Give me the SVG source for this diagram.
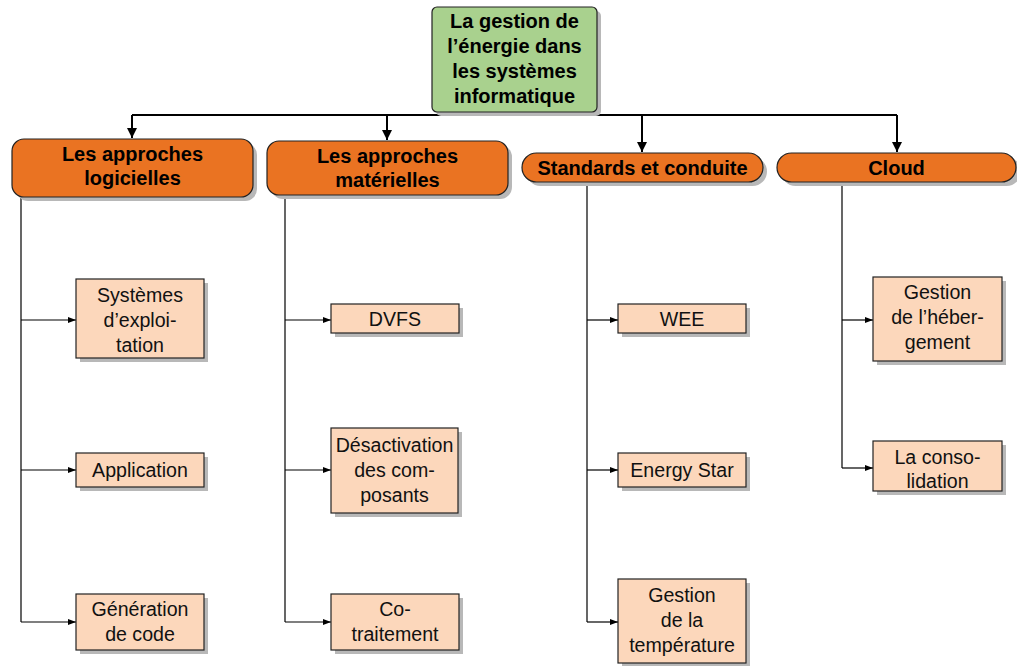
<svg xmlns="http://www.w3.org/2000/svg" width="1017" height="666" viewBox="0 0 1017 666">
<defs>
<style>
.sh{fill:#b8b8b8}
.root{fill:#a9d18e;stroke:#222;stroke-width:1.2}
.cat{fill:#ea7322;stroke:#222;stroke-width:1.2}
.leaf{fill:#fcd7bb;stroke:#222;stroke-width:1.2}
.tb{font-family:"Liberation Sans",Arial,sans-serif;font-weight:bold;font-size:20px;text-anchor:middle;fill:#000}
.t{font-family:"Liberation Sans",Arial,sans-serif;font-size:19.6px;text-anchor:middle;fill:#111}
.c1{fill:none;stroke:#000;stroke-width:2}
.c2{fill:none;stroke:#000;stroke-width:1.2}
</style>
<marker id="ab" viewBox="0 0 10 10" refX="10" refY="5" markerWidth="10" markerHeight="10" markerUnits="userSpaceOnUse" orient="auto"><path d="M0,0L10,5L0,10z" fill="#000"/></marker>
<marker id="as" viewBox="0 0 10 10" refX="10" refY="5" markerWidth="8" markerHeight="6" markerUnits="userSpaceOnUse" orient="auto" preserveAspectRatio="none"><path d="M0,0L10,5L0,10z" fill="#000"/></marker>
</defs>
<rect width="1017" height="666" fill="#fff"/>

<g id="connectors">
<path class="c1" d="M132,115H897"/>
<path class="c1" d="M132,115V138" marker-end="url(#ab)"/>
<path class="c1" d="M387,115V140" marker-end="url(#ab)"/>
<path class="c1" d="M642,115V152" marker-end="url(#ab)"/>
<path class="c1" d="M897,115V152" marker-end="url(#ab)"/>
<path class="c2" d="M21,197V622"/>
<path class="c2" d="M21,320H76" marker-end="url(#as)"/>
<path class="c2" d="M21,470H76" marker-end="url(#as)"/>
<path class="c2" d="M21,622H76" marker-end="url(#as)"/>
<path class="c2" d="M285,195V622"/>
<path class="c2" d="M285,320H331" marker-end="url(#as)"/>
<path class="c2" d="M285,470H331" marker-end="url(#as)"/>
<path class="c2" d="M285,622H331" marker-end="url(#as)"/>
<path class="c2" d="M587,182V622"/>
<path class="c2" d="M587,320H618" marker-end="url(#as)"/>
<path class="c2" d="M587,470H618" marker-end="url(#as)"/>
<path class="c2" d="M587,622H618" marker-end="url(#as)"/>
<path class="c2" d="M842,182V468"/>
<path class="c2" d="M842,320H873" marker-end="url(#as)"/>
<path class="c2" d="M842,468H873" marker-end="url(#as)"/>
</g>

<g id="root">
<rect class="sh" x="436" y="11" width="165" height="105" rx="5"/>
<rect class="root" x="432" y="7" width="165" height="105" rx="5"/>
<text class="tb" x="514.5" y="28">La gestion de</text>
<text class="tb" x="514.5" y="53">l’énergie dans</text>
<text class="tb" x="514.5" y="78">les systèmes</text>
<text class="tb" x="514.5" y="103">informatique</text>
</g>

<g id="cat1">
<rect class="sh" x="16" y="143" width="241" height="58" rx="12"/>
<rect class="cat" x="12" y="139" width="241" height="58" rx="12"/>
<text class="tb" x="132.5" y="161">Les approches</text>
<text class="tb" x="132.5" y="185">logicielles</text>
</g>
<g id="cat2">
<rect class="sh" x="271" y="145" width="241" height="54" rx="12"/>
<rect class="cat" x="267" y="141" width="241" height="54" rx="12"/>
<text class="tb" x="387.5" y="163">Les approches</text>
<text class="tb" x="387.5" y="187">matérielles</text>
</g>
<g id="cat3">
<rect class="sh" x="526" y="157" width="241" height="29" rx="14.5"/>
<rect class="cat" x="522" y="153" width="241" height="29" rx="14.5"/>
<text class="tb" x="642.5" y="175">Standards et conduite</text>
</g>
<g id="cat4">
<rect class="sh" x="781" y="157" width="240" height="29" rx="14.5"/>
<rect class="cat" x="777" y="153" width="239" height="29" rx="14.5"/>
<text class="tb" x="896.5" y="175">Cloud</text>
</g>

<g id="leaf-systemes">
<rect class="sh" x="80" y="283" width="128" height="79"/>
<rect class="leaf" x="76" y="279" width="128" height="79"/>
<text class="t" x="140" y="302">Systèmes</text>
<text class="t" x="140" y="327">d’exploi-</text>
<text class="t" x="140" y="352">tation</text>
</g>
<g id="leaf-application">
<rect class="sh" x="80" y="457" width="128" height="34"/>
<rect class="leaf" x="76" y="453" width="128" height="34"/>
<text class="t" x="140" y="477">Application</text>
</g>
<g id="leaf-generation">
<rect class="sh" x="80" y="598" width="128" height="56"/>
<rect class="leaf" x="76" y="594" width="128" height="56"/>
<text class="t" x="140" y="616">Génération</text>
<text class="t" x="140" y="641">de code</text>
</g>

<g id="leaf-dvfs">
<rect class="sh" x="335" y="308" width="128" height="29"/>
<rect class="leaf" x="331" y="304" width="128" height="29"/>
<text class="t" x="395" y="326">DVFS</text>
</g>
<g id="leaf-desactivation">
<rect class="sh" x="335" y="432" width="127" height="85"/>
<rect class="leaf" x="331" y="428" width="127" height="85"/>
<text class="t" x="394.5" y="452">Désactivation</text>
<text class="t" x="394.5" y="477">des com-</text>
<text class="t" x="394.5" y="502">posants</text>
</g>
<g id="leaf-cotraitement">
<rect class="sh" x="335" y="598" width="128" height="56"/>
<rect class="leaf" x="331" y="594" width="128" height="56"/>
<text class="t" x="395" y="616">Co-</text>
<text class="t" x="395" y="641">traitement</text>
</g>

<g id="leaf-wee">
<rect class="sh" x="622" y="308" width="128" height="29"/>
<rect class="leaf" x="618" y="304" width="128" height="29"/>
<text class="t" x="682" y="326">WEE</text>
</g>
<g id="leaf-energystar">
<rect class="sh" x="622" y="457" width="128" height="34"/>
<rect class="leaf" x="618" y="453" width="128" height="34"/>
<text class="t" x="682" y="477">Energy Star</text>
</g>
<g id="leaf-temperature">
<rect class="sh" x="622" y="583" width="128" height="84"/>
<rect class="leaf" x="618" y="579" width="128" height="84"/>
<text class="t" x="682" y="602">Gestion</text>
<text class="t" x="682" y="627">de la</text>
<text class="t" x="682" y="652">température</text>
</g>

<g id="leaf-hebergement">
<rect class="sh" x="877" y="281" width="129" height="84"/>
<rect class="leaf" x="873" y="277" width="129" height="84"/>
<text class="t" x="937.5" y="299">Gestion</text>
<text class="t" x="937.5" y="324">de l’héber-</text>
<text class="t" x="937.5" y="349">gement</text>
</g>
<g id="leaf-consolidation">
<rect class="sh" x="877" y="445" width="129" height="50"/>
<rect class="leaf" x="873" y="441" width="129" height="50"/>
<text class="t" x="937.5" y="464">La conso-</text>
<text class="t" x="937.5" y="488">lidation</text>
</g>
</svg>
